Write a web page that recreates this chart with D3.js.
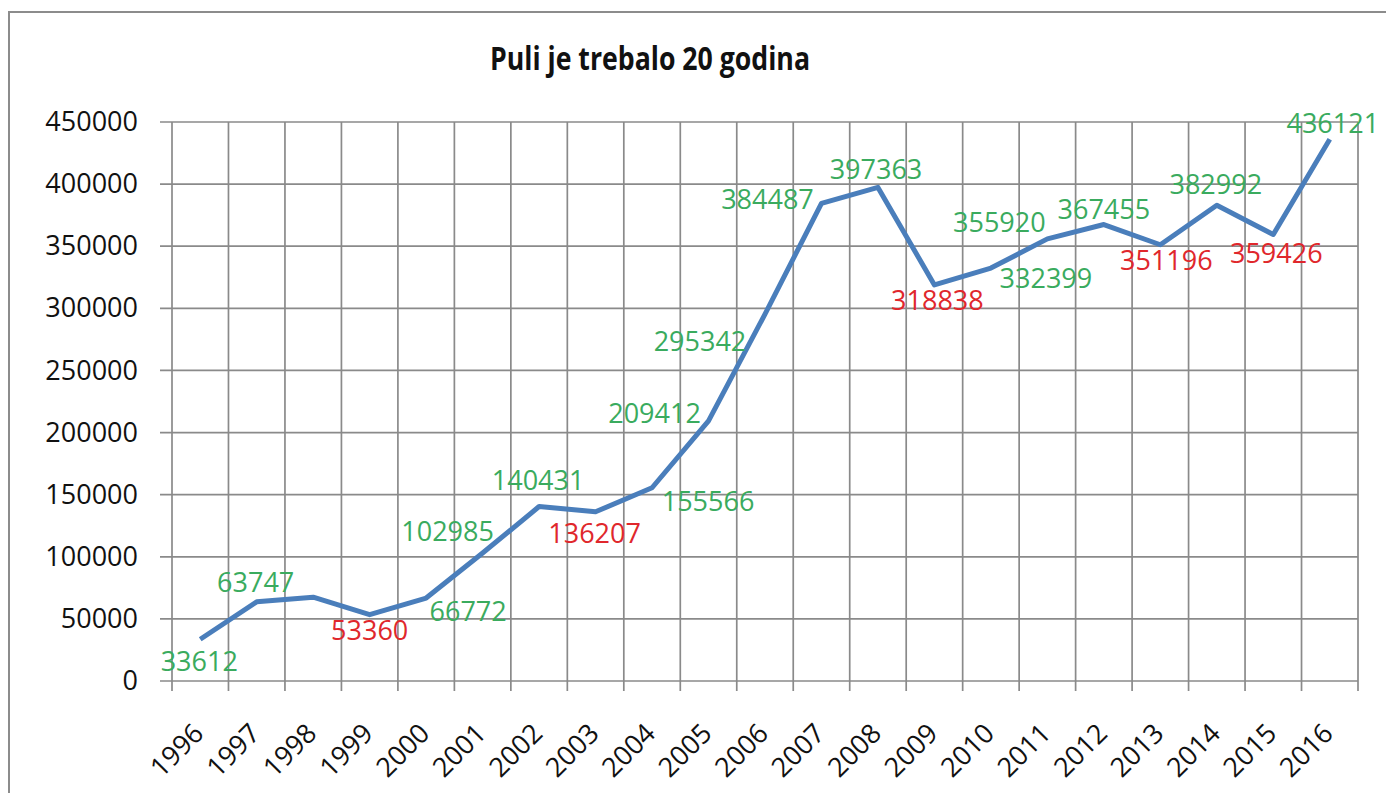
<!DOCTYPE html>
<html>
<head>
<meta charset="utf-8">
<script src="https://cdn.jsdelivr.net/npm/d3@7"></script>
<style>
  body { margin: 0; background: #fff; }
  svg text { font-family: "Open Sans", "Liberation Sans", sans-serif; }
</style>
</head>
<body>
<svg id="chart" width="1386" height="810"></svg>
<script>
const title = "Puli je trebalo 20 godina";

const years = ["1996", "1997", "1998", "1999", "2000", "2001", "2002",
  "2003", "2004", "2005", "2006", "2007", "2008", "2009", "2010",
  "2011", "2012", "2013", "2014", "2015", "2016"];

// 1998 has no label in the picture, its value is read off the line
const values = [33612, 63747, 67500, 53360, 66772, 102985, 140431,
  136207, 155566, 209412, 295342, 384487, 397363, 318838, 332399,
  355920, 367455, 351196, 382992, 359426, 436121];

const yTicks = [0, 50000, 100000, 150000, 200000, 250000, 300000,
  350000, 400000, 450000];

// where each value label sits relative to its point (null = no label)
const labelNudge = [[-1, 22], [-1, -19], null, [0, 16], [42, 13],
  [-35, -22], [-1, -26], [-1, 22], [56, 14], [-54, -7], [-65, 27],
  [-54, -4], [-2, -18], [3, 16], [55, 10], [-48, -16], [0, -15],
  [6, 16], [-1, -21], [3, 19], [3, -16]];

const svg = d3.select("#chart");
const margin = {top: 122, left: 172, right: 1358, bottom: 681};

const x = d3.scaleBand().domain(years).range([margin.left, margin.right]).padding(0);
const y = d3.scaleLinear().domain([0, 450000]).range([margin.bottom, margin.top]);
const cx = (d) => x(d) + x.bandwidth() / 2;

// chart frame (cropped on the right and bottom)
svg.append("path")
  .attr("d", "M9,793V12H1386")
  .attr("fill", "none")
  .attr("stroke", "#8c8c8c")
  .attr("stroke-width", 2);

svg.append("text")
  .attr("x", 650)
  .attr("y", 70)
  .attr("text-anchor", "middle")
  .attr("font-size", 32)
  .attr("font-weight", "bold")
  .attr("textLength", 320)
  .attr("lengthAdjust", "spacingAndGlyphs")
  .attr("fill", "#111")
  .text(title);

const grid = svg.append("g").attr("class", "grid")
  .attr("stroke", "#8a8a8a")
  .attr("stroke-width", 1.7);

grid.selectAll("line.h")
  .data(yTicks)
  .enter().append("line")
    .attr("class", "h")
    .attr("x1", margin.left - 12)
    .attr("x2", margin.right)
    .attr("y1", (d) => y(d))
    .attr("y2", (d) => y(d));

const bounds = years.map((d) => x(d)).concat([x.range()[1]]);
grid.selectAll("line.v")
  .data(bounds)
  .enter().append("line")
    .attr("class", "v")
    .attr("x1", (d) => d)
    .attr("x2", (d) => d)
    .attr("y1", margin.top)
    .attr("y2", margin.bottom + 10);

const yAxis = svg.append("g")
  .attr("transform", "translate(" + margin.left + ",0)")
  .call(d3.axisLeft(y).tickValues(yTicks).tickSize(0).tickPadding(34).tickFormat(d3.format("d")));
yAxis.select(".domain").remove();
yAxis.selectAll("text")
  .attr("font-size", 27)
  .attr("fill", "#111");

const xAxis = svg.append("g")
  .attr("transform", "translate(0," + margin.bottom + ")")
  .call(d3.axisBottom(x).tickSize(0));
xAxis.select(".domain").remove();
xAxis.selectAll("text")
  .attr("font-size", 27)
  .attr("fill", "#111")
  .attr("text-anchor", "end")
  .attr("x", 0)
  .attr("y", 0)
  .attr("dy", 0)
  .attr("transform", "translate(5,54) rotate(-45)");

const line = d3.line()
  .x((d, i) => cx(years[i]))
  .y((d) => y(d));

svg.append("path")
  .datum(values)
  .attr("fill", "none")
  .attr("stroke", "#4a7ebb")
  .attr("stroke-width", 5)
  .attr("stroke-linejoin", "round")
  .attr("d", line);

const labels = values.map((v, i) => ({year: years[i], value: v, nudge: labelNudge[i],
  down: i > 0 && v < values[i - 1]}))
  .filter((d) => d.nudge);

svg.selectAll("text.val")
  .data(labels)
  .enter().append("text")
    .attr("class", "val")
    .attr("x", (d) => cx(d.year) + d.nudge[0])
    .attr("y", (d) => y(d.value) + d.nudge[1])
    .attr("dy", "0.35em")
    .attr("text-anchor", "middle")
    .attr("font-size", 27)
    .attr("fill", (d) => d.down ? "#e0272c" : "#3aab5e")
    .text((d) => d.value);
</script>
</body>
</html>
